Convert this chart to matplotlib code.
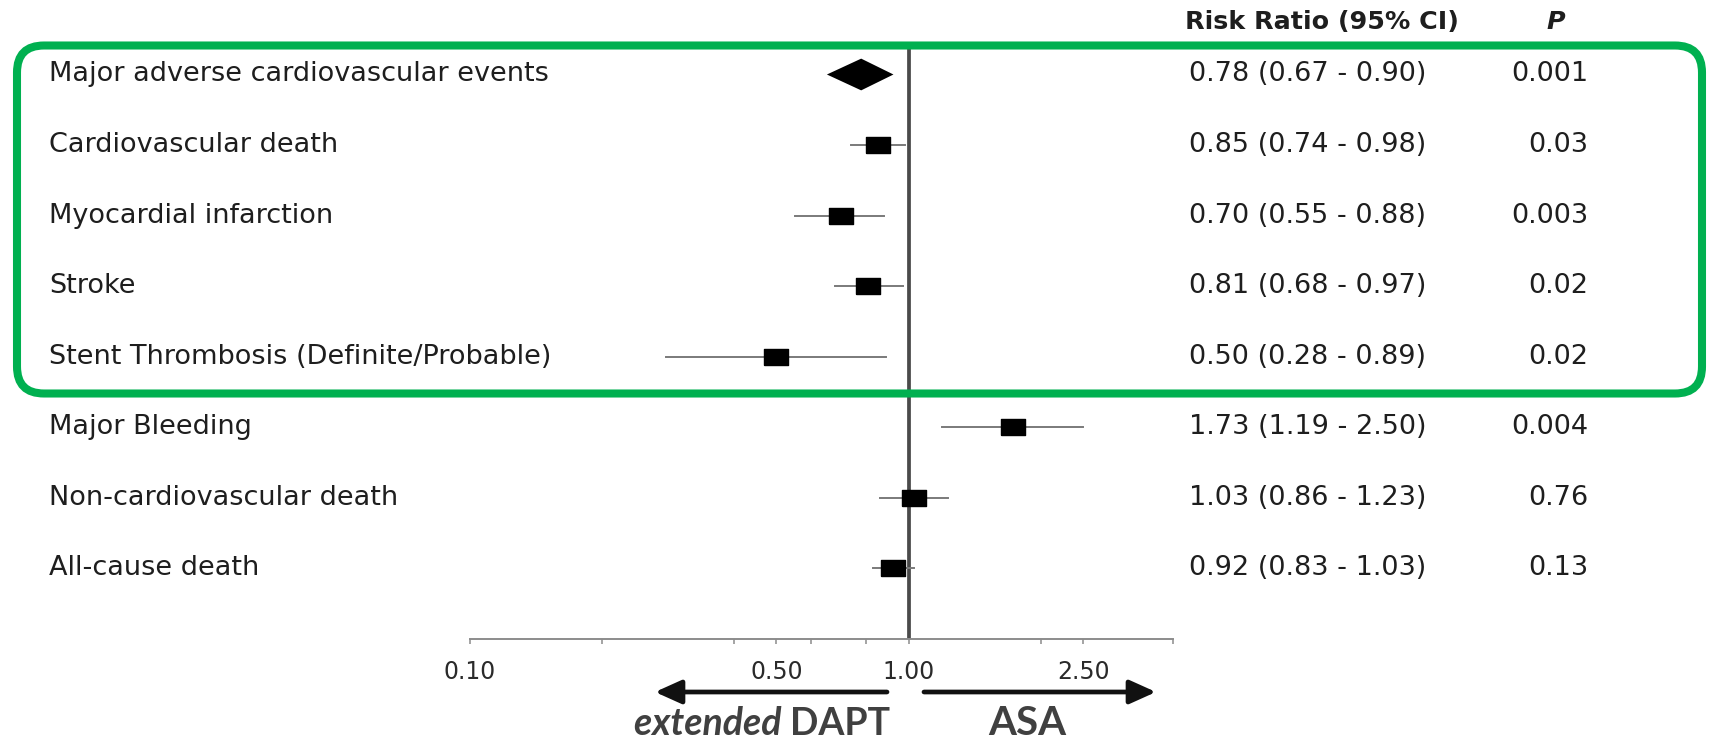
"""
Forest plot: extended DAPT vs ASA, risk ratios with 95% CI.
Saves out.png (1710x739).
"""

import matplotlib
matplotlib.use("Agg")
import matplotlib.pyplot as plt
from matplotlib.patches import FancyBboxPatch
from matplotlib.ticker import NullFormatter
from matplotlib import transforms

# ============================================================
# 1. Data
# ============================================================

outcomes = [
    "Major adverse cardiovascular events",
    "Cardiovascular death",
    "Myocardial infarction",
    "Stroke",
    "Stent Thrombosis (Definite/Probable)",
    "Major Bleeding",
    "Non-cardiovascular death",
    "All-cause death",
]
rr = [0.78, 0.85, 0.70, 0.81, 0.50, 1.73, 1.03, 0.92]
ci_lo = [0.67, 0.74, 0.55, 0.68, 0.28, 1.19, 0.86, 0.83]
ci_hi = [0.90, 0.98, 0.88, 0.97, 0.89, 2.50, 1.23, 1.03]
p_values = ["0.001", "0.03", "0.003", "0.02", "0.02", "0.004", "0.76", "0.13"]

major_ticks = [0.10, 0.50, 1.00, 2.50]
major_labels = ["0.10", "0.50", "1.00", "2.50"]
minor_ticks = [0.2, 0.4, 0.6, 0.8, 2.0, 4.0]

# ============================================================
# 2. Figure / axes layout (pixel based, 1710x739)
# ============================================================

W, H = 1710, 739
fig = plt.figure(figsize=(W / 100, H / 100), dpi=100)

# forest axes: log x, one unit per row
ax_top, ax_bot = 49, 639          # pixel rows of vertical line / axis
row0, row_step = 74.5, 70.55      # pixel y of first row, row spacing
ax = fig.add_axes([0, (H - ax_bot) / H, 1, (ax_bot - ax_top) / H])
ax.set_xscale("log")
x_ref, px_per_dec = 908.5, 438.7  # pixel x of RR=1 and pixels per decade
ax.set_xlim(10 ** (-x_ref / px_per_dec), 10 ** ((W - x_ref) / px_per_dec))
ax.set_ylim((ax_bot - row0) / row_step, (ax_top - row0) / row_step)
ax.patch.set_visible(False)

# overlay axes in pixel units for text / box / arrows
ov = fig.add_axes([0, 0, 1, 1])
ov.set_xlim(0, W)
ov.set_ylim(H, 0)
ov.axis("off")
ov.patch.set_visible(False)

row_tr = transforms.blended_transform_factory(ov.transData, ax.transData)

# ============================================================
# 3. Forest marks
# ============================================================

ax.axvline(1.0, color="#4a4a4a", lw=2.7, zorder=1)

rect_marker = [(-1.5, -1), (1.5, -1), (1.5, 1), (-1.5, 1), (-1.5, -1)]
for i in range(len(outcomes)):
    if i == 0:
        # summary diamond
        h = 0.19
        ax.fill([ci_lo[i], rr[i], ci_hi[i], rr[i]], [i, i - h, i, i + h],
                fc="black", ec="black", lw=3.2, joinstyle="miter", zorder=3)
        continue
    ax.plot([ci_lo[i], ci_hi[i]], [i, i], color="#7a7a7a", lw=1.4, zorder=2)
    ax.plot(rr[i], i, marker=rect_marker, ms=17, color="black",
            mec="black", zorder=3)

# axis styling
for side in ["top", "left", "right"]:
    ax.spines[side].set_visible(False)
ax.spines["bottom"].set_bounds(0.1, 4.0)
ax.spines["bottom"].set_color("#8c8c8c")
ax.spines["bottom"].set_linewidth(1.4)
ax.set_yticks([])
ax.set_xticks(major_ticks)
ax.set_xticklabels(major_labels)
ax.set_xticks(minor_ticks, minor=True)
ax.xaxis.set_minor_formatter(NullFormatter())
ax.tick_params(axis="x", which="both", direction="out", length=3.4, width=1.1,
               color="#8c8c8c", labelsize=17, labelcolor="#2a2a2a", pad=12)

# ============================================================
# 4. Text columns
# ============================================================

txt_kw = dict(fontsize=19.5, color="#1e1e1e", va="center", family="DejaVu Sans")
for i, name in enumerate(outcomes):
    ov.text(49, i, name, transform=row_tr, ha="left", **txt_kw)
    ov.text(1189, i, f"{rr[i]:.2f} ({ci_lo[i]:.2f} - {ci_hi[i]:.2f})",
            transform=row_tr, ha="left", **txt_kw)
    ov.text(1588, i, p_values[i], transform=row_tr, ha="right", **txt_kw)

ov.text(1185, 22, "Risk Ratio (95% CI)", fontsize=18.3, fontweight="bold",
        color="#1e1e1e", ha="left", va="center")
ov.text(1556, 22, "P", fontsize=18.3, fontweight="bold", style="italic",
        color="#1e1e1e", ha="center", va="center")

# ============================================================
# 5. Highlight box, arrows, direction labels
# ============================================================

box = FancyBboxPatch((17, 45.5), 1685, 348,
                     boxstyle="round,pad=0,rounding_size=27",
                     lw=5.8, ec="#00B050", fc="none", zorder=5)
ov.add_patch(box)

arrow_kw = dict(arrowstyle="-|>,head_length=0.8,head_width=0.36",
                mutation_scale=20, lw=3.4, color="#111111",
                shrinkA=0, shrinkB=0)
ov.annotate("", xy=(655, 692), xytext=(887, 692), arrowprops=arrow_kw)
ov.annotate("", xy=(1156, 692), xytext=(924, 692), arrowprops=arrow_kw)

dapt = ov.text(890, 735, "DAPT", family="Lato", fontsize=27, fontweight="bold",
               color="#404040", ha="right", va="baseline")
ov.annotate("extended ", xy=(0, 0), xycoords=dapt, family="Lato", fontsize=27,
            fontweight="bold", style="italic", color="#404040",
            ha="right", va="bottom")
ov.text(1027, 735, "ASA", family="Lato", fontsize=29, fontweight="bold",
        color="#404040", ha="center", va="baseline")

fig.savefig("out.png", dpi=100)
print("[OK] saved out.png")
